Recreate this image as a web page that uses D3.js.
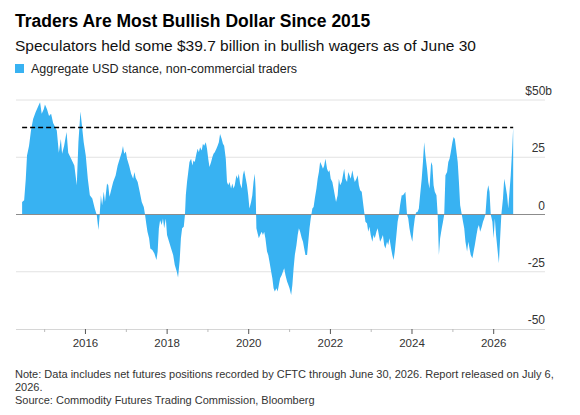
<!DOCTYPE html>
<html>
<head>
<meta charset="utf-8">
<script src="https://cdn.jsdelivr.net/npm/d3@7"></script>
<style>
  body { margin: 0; background: #fff; }
  svg { font-family: "Liberation Sans", Arial, sans-serif; }
</style>
</head>
<body>
<div id="chart"></div>
<script>
// weekly CFTC readings, decimal year -> net USD position ($b)
var t = [
  2014.46, 2014.51, 2014.55, 2014.58, 2014.63, 2014.68, 2014.73, 2014.79, 2014.86, 2014.90,
  2014.94, 2014.99, 2015.02, 2015.07, 2015.12, 2015.17, 2015.22, 2015.31, 2015.36, 2015.41,
  2015.44, 2015.49, 2015.55, 2015.59, 2015.67, 2015.74, 2015.80, 2015.84, 2015.89, 2015.92,
  2015.97, 2016.02, 2016.07, 2016.12, 2016.18, 2016.24, 2016.29, 2016.33, 2016.36, 2016.39,
  2016.42, 2016.46, 2016.49, 2016.54, 2016.57, 2016.60, 2016.65, 2016.69, 2016.75, 2016.80,
  2016.85, 2016.90, 2016.93, 2016.96, 2017.00, 2017.03, 2017.08, 2017.13, 2017.18, 2017.21,
  2017.24, 2017.29, 2017.34, 2017.39, 2017.44, 2017.47, 2017.50, 2017.53, 2017.57, 2017.60,
  2017.65, 2017.70, 2017.75, 2017.78, 2017.81, 2017.84, 2017.88, 2017.91, 2017.94, 2017.98,
  2018.01, 2018.06, 2018.11, 2018.16, 2018.20, 2018.25, 2018.28, 2018.32, 2018.35, 2018.38,
  2018.42, 2018.45, 2018.47, 2018.50, 2018.53, 2018.56, 2018.60, 2018.63, 2018.66, 2018.69,
  2018.73, 2018.76, 2018.79, 2018.82, 2018.86, 2018.89, 2018.92, 2018.96, 2018.99, 2019.02,
  2019.05, 2019.09, 2019.12, 2019.15, 2019.18, 2019.22, 2019.25, 2019.28, 2019.31, 2019.35,
  2019.38, 2019.41, 2019.45, 2019.48, 2019.51, 2019.54, 2019.58, 2019.61, 2019.64, 2019.67,
  2019.71, 2019.74, 2019.77, 2019.80, 2019.84, 2019.87, 2019.90, 2019.94, 2019.97, 2020.00,
  2020.03, 2020.07, 2020.10, 2020.13, 2020.16, 2020.18, 2020.20, 2020.23, 2020.26, 2020.29,
  2020.33, 2020.36, 2020.39, 2020.42, 2020.46, 2020.49, 2020.52, 2020.56, 2020.59, 2020.62,
  2020.65, 2020.69, 2020.72, 2020.75, 2020.78, 2020.82, 2020.85, 2020.88, 2020.91, 2020.95,
  2020.98, 2021.01, 2021.05, 2021.08, 2021.11, 2021.14, 2021.18, 2021.21, 2021.24, 2021.27,
  2021.31, 2021.34, 2021.37, 2021.40, 2021.44, 2021.47, 2021.50, 2021.53, 2021.57, 2021.60,
  2021.63, 2021.67, 2021.70, 2021.73, 2021.76, 2021.80, 2021.83, 2021.86, 2021.89, 2021.93,
  2021.96, 2021.99, 2022.02, 2022.06, 2022.09, 2022.12, 2022.15, 2022.19, 2022.22, 2022.25,
  2022.29, 2022.32, 2022.35, 2022.38, 2022.42, 2022.45, 2022.48, 2022.51, 2022.55, 2022.58,
  2022.61, 2022.65, 2022.68, 2022.71, 2022.74, 2022.78, 2022.81, 2022.84, 2022.87, 2022.91,
  2022.94, 2022.97, 2023.00, 2023.04, 2023.07, 2023.10, 2023.14, 2023.17, 2023.20, 2023.23,
  2023.27, 2023.30, 2023.33, 2023.36, 2023.40, 2023.43, 2023.46, 2023.50, 2023.53, 2023.56,
  2023.59, 2023.63, 2023.66, 2023.69, 2023.72, 2023.76, 2023.79, 2023.82, 2023.85, 2023.89,
  2023.92, 2023.95, 2023.98, 2024.02, 2024.05, 2024.08, 2024.11, 2024.15, 2024.18, 2024.21,
  2024.25, 2024.28, 2024.31, 2024.34, 2024.38, 2024.41, 2024.44, 2024.48, 2024.51, 2024.54,
  2024.57, 2024.61, 2024.64, 2024.67, 2024.70, 2024.74, 2024.77, 2024.80, 2024.83, 2024.87,
  2024.90, 2024.93, 2024.96, 2025.00, 2025.03, 2025.06, 2025.09, 2025.13, 2025.16, 2025.19,
  2025.23, 2025.26, 2025.29, 2025.32, 2025.36, 2025.39, 2025.42, 2025.45, 2025.49, 2025.52,
  2025.55, 2025.59, 2025.62, 2025.65, 2025.68, 2025.72, 2025.75, 2025.78, 2025.81, 2025.85,
  2025.88, 2025.91, 2025.94, 2025.98, 2026.01, 2026.04, 2026.07, 2026.11, 2026.14, 2026.17,
  2026.20, 2026.24, 2026.27, 2026.30, 2026.34, 2026.37, 2026.40, 2026.43, 2026.47, 2026.49
];
var usd = [
  5.5, 6.2, 15.6, 25.8, 30, 37, 41.7, 44.6, 47.5, 49,
  44, 46, 48, 46, 43, 44, 40, 36.7, 27, 33,
  26.5, 30, 36, 27, 24, 21.4, 12.8, 31.6, 45, 40,
  31.6, 25.8, 15.6, 8.4, 7, 2.6, -0.3, -6.8, -0.3, 8.4,
  4, 10, 5.5, 13.5, 12.8, 7.7, 11.3, 14.2, 17, 21.4,
  24.3, 27.2, 29.9, 26.5, 27.5, 24.3, 21.4, 17.8, 15.6, 18.6,
  16, 14.2, 9.9, 5.5, 3.3, 0, -3.9, -7.5, -10.4, -14.8,
  -15.5, -17, -19.9, -16.2, -6, -2.5, -4.6, -1.7, -6, -1.7,
  -9, -11.9, -14.8, -17.7, -22, -25, -27.5, -20, -10.4, -6,
  -5.4, 0, 8.4, 14.2, 18.6, 22.9, 24.3, 21.4, 23.6, 22.9,
  26.5, 28.7, 27.2, 29.4, 28, 30.9, 30, 31.6, 28.7, 24.3,
  20.7, 22.9, 25, 26.5, 27.2, 28.7, 30, 31.6, 35.2, 33,
  30.9, 30, 24.3, 14.2, 12.8, 14.2, 11.3, 13.5, 11.3, 12.8,
  17.1, 15.6, 17.8, 13.5, 11.3, 17.1, 19.3, 15.6, 12.8, 8.4,
  2.6, 5.5, 8.4, 14.2, 17.8, 11.3, -6, -8.3, -10.4, -9,
  -7.5, -9, -7.5, -10.4, -16.2, -17.7, -20.6, -24.9, -27.8, -32.2,
  -33.6, -32.2, -33.6, -30.7, -27.8, -26.4, -24.9, -23.5, -26.4, -29.3,
  -30.7, -32.2, -35.1, -30.7, -23.5, -17.7, -13.3, -9, -6, -7.5,
  -10.4, -11.9, -14.8, -17.7, -17.7, -11.9, -6, -1.7, 2.6, 3.3,
  7, 11.3, 15.6, 18.6, 22.9, 21.4, 20, 21.4, 24.3, 20,
  18.6, 19.3, 15.6, 14.2, 11.3, 8.4, 5.5, 8.4, 15.6, 12.8,
  14.2, 17.1, 20, 15.6, 14.2, 18.6, 17.1, 15.6, 19.3, 16.4,
  14.2, 15.6, 17.1, 12.8, 10.6, 9.9, 5.5, 1.2, -3.2, -3.9,
  -7.5, -5.4, -9, -11.9, -9, -10.4, -7.5, -6, -9, -11.9,
  -10.4, -9, -13.3, -14.8, -11.9, -13.3, -10.4, -14.8, -17.7, -19.9,
  -16.2, -9, -3.2, -0.3, 4, 8.4, 8.4, 9.1, 9.9, 0,
  -1.7, -6, -9, -11.9, -6, -1.7, 0.9, 1.2, 2.6, 8.4,
  15.6, 22.9, 31.6, 25.8, 20, 14.2, 11.3, 22.9, 21.4, 12.8,
  9.9, 8.4, 0, -17.7, -10.4, -6, -3.2, 0, 17.1, 18.6,
  22.9, 24.3, 27.2, 31.6, 33.8, 33, 28.7, 22.9, 14.2, 4,
  0, -3.2, -6, -11.9, -16.2, -11.9, -14.8, -17.7, -19.1, -16.2,
  -13.3, -9, -6, -4.6, -7.5, -5.4, -3.2, -1.7, 0, 9.9,
  12.8, 9.9, 0, -3.2, -10.4, -1.7, -9, -16.2, -21.3, -10.4,
  0, 7, 15.6, 12.8, 8.4, 2.6, 9.9, 17.1, 30.1, 38
];
var majorYears = [2016, 2018, 2020, 2022, 2024, 2026];
var minorYears = [2015, 2017, 2019, 2021, 2023, 2025];
var yTicks = [50, 25, 0, -25, -50];

var W = 580, H = 415;
var plotL = 16, plotR = 545, plotT = 100, plotB = 329;

function toDate(yr) {
  var y0 = Math.floor(yr);
  var a = new Date(y0, 0, 1), b = new Date(y0 + 1, 0, 1);
  return new Date(+a + (yr - y0) * (b - a));
}

var data = t.map(function (d, i) { return { date: toDate(d), v: usd[i] }; });

var x = d3.scaleTime()
  .domain([toDate(2014.31), toDate(2027.27)])
  .range([plotL, plotR]);
var y = d3.scaleLinear().domain([-50, 50]).range([plotB, plotT]);

var svg = d3.select("#chart").append("svg")
  .attr("width", W)
  .attr("height", H);

// header
svg.append("text")
  .attr("x", 15).attr("y", 27)
  .style("font-size", "17.5px").style("font-weight", "700")
  .attr("fill", "#000")
  .text("Traders Are Most Bullish Dollar Since 2015");
svg.append("text")
  .attr("x", 15).attr("y", 51)
  .style("font-size", "15.5px")
  .attr("fill", "#111")
  .text("Speculators held some $39.7 billion in bullish wagers as of June 30");
svg.append("rect")
  .attr("x", 15).attr("y", 64).attr("width", 9).attr("height", 9)
  .attr("fill", "#38b2f2");
svg.append("text")
  .attr("x", 31).attr("y", 73)
  .style("font-size", "12.5px")
  .attr("fill", "#222")
  .text("Aggregate USD stance, non-commercial traders");

// gridlines
svg.append("g")
  .selectAll("line")
  .data(yTicks.filter(function (d) { return d !== 0 && d !== -50; }))
  .enter().append("line")
  .attr("x1", plotL).attr("x2", plotR)
  .attr("y1", function (d) { return y(d); })
  .attr("y2", function (d) { return y(d); })
  .attr("stroke", "#e2e2e2")
  .attr("stroke-width", 1);

// area
var area = d3.area()
  .x(function (d) { return x(d.date); })
  .y0(y(0))
  .y1(function (d) { return y(d.v); });

svg.append("path")
  .datum(data)
  .attr("d", area)
  .attr("fill", "#38b2f2");

// zero line
svg.append("line")
  .attr("x1", plotL).attr("x2", plotR)
  .attr("y1", y(0)).attr("y2", y(0))
  .attr("stroke", "#8c8c8c")
  .attr("stroke-width", 1);

// dashed reference at latest reading
var last = data[data.length - 1];
svg.append("line")
  .attr("x1", x(data[0].date)).attr("x2", x(last.date))
  .attr("y1", y(last.v)).attr("y2", y(last.v))
  .attr("stroke", "#000")
  .attr("stroke-width", 1.6)
  .attr("stroke-dasharray", "5,3");

// y labels on the right
svg.append("g")
  .selectAll("text")
  .data(yTicks)
  .enter().append("text")
  .attr("x", function (d) { return d === 50 ? plotR + 7 : plotR; })
  .attr("y", function (d) { return y(d) - 5; })
  .attr("text-anchor", "end")
  .style("font-size", "12px")
  .attr("fill", "#333")
  .text(function (d) { return d === 50 ? "$50b" : d; });

// x axis
var xAxis = svg.append("g")
  .attr("transform", "translate(0," + plotB + ")")
  .call(d3.axisBottom(x)
    .tickValues(majorYears.map(function (d) { return new Date(d, 0, 1); }))
    .tickSize(5)
    .tickPadding(5)
    .tickFormat(d3.timeFormat("%Y")));
xAxis.select(".domain").attr("d", "M" + plotL + ",0.5H" + plotR).attr("stroke", "#d6d6d6");
xAxis.selectAll(".tick line").attr("stroke", "#555");
xAxis.selectAll(".tick text")
  .style("font-size", "11.5px")
  .style("font-family", "Liberation Sans, Arial, sans-serif")
  .attr("fill", "#333");

var xMinor = svg.append("g")
  .attr("transform", "translate(0," + plotB + ")")
  .call(d3.axisBottom(x)
    .tickValues(minorYears.map(function (d) { return new Date(d, 0, 1); }))
    .tickSize(3)
    .tickFormat(""));
xMinor.select(".domain").remove();
xMinor.selectAll(".tick line").attr("stroke", "#bbb");

// footnotes
var notes = [
  "Note: Data includes net futures positions recorded by CFTC through June 30, 2026. Report released on July 6,",
  "2026.",
  "Source: Commodity Futures Trading Commission, Bloomberg"
];
svg.append("g")
  .selectAll("text")
  .data(notes)
  .enter().append("text")
  .attr("x", 15)
  .attr("y", function (d, i) { return 378 + i * 13; })
  .style("font-size", "11px")
  .attr("fill", "#333")
  .text(function (d) { return d; });
</script>
</body>
</html>
